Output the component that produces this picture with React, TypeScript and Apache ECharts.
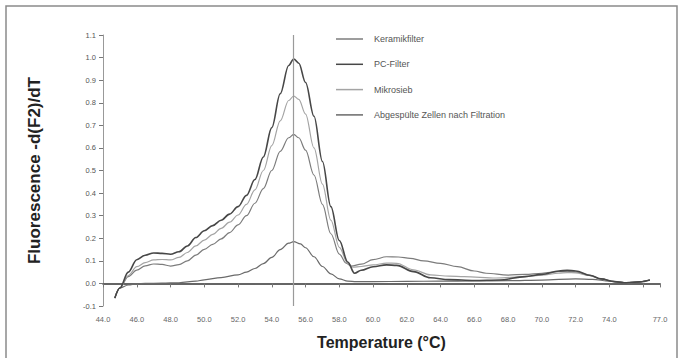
import React, { useEffect, useRef } from "react";
import * as echarts from "echarts";

const seriesNames = ["Keramikfilter", "PC-Filter", "Mikrosieb", "Abgespülte Zellen nach Filtration"];

const keramikfilter: [number, number][] = [
  [44.7, -0.065], [45.0, -0.02], [45.5, 0.03], [46.0, 0.059], [46.5, 0.078], [47.0, 0.086], [47.5, 0.084],
  [48.0, 0.077], [48.5, 0.083], [49.0, 0.1], [49.5, 0.125], [50.0, 0.151], [50.5, 0.173], [51.0, 0.197],
  [51.5, 0.225], [52.0, 0.259], [52.5, 0.3], [53.0, 0.355], [53.5, 0.42], [54.0, 0.5], [54.5, 0.585],
  [55.0, 0.645], [55.3, 0.66], [55.6, 0.645], [56.0, 0.59], [56.5, 0.48], [57.0, 0.35], [57.5, 0.22],
  [58.0, 0.13], [58.4, 0.09], [58.7, 0.077], [59.3, 0.085], [60.0, 0.105], [60.8, 0.118], [61.5, 0.117],
  [62.2, 0.111], [63.0, 0.1], [64.0, 0.089], [65.0, 0.074], [66.0, 0.055], [66.7, 0.045], [68.0, 0.037],
  [69.0, 0.04], [70.0, 0.045], [71.0, 0.052], [71.5, 0.053], [72.0, 0.05], [72.8, 0.037], [73.5, 0.02],
  [74.3, 0.008], [75.0, 0.003], [75.8, 0.007], [76.4, 0.015],
];

const pcFilter: [number, number][] = [
  [44.7, -0.065], [45.0, -0.02], [45.5, 0.05], [46.0, 0.105], [46.5, 0.125], [47.0, 0.135], [47.5, 0.133],
  [48.0, 0.129], [48.5, 0.14], [49.0, 0.166], [49.5, 0.203], [50.0, 0.233], [50.5, 0.256], [51.0, 0.28],
  [51.5, 0.307], [52.0, 0.34], [52.5, 0.39], [53.0, 0.46], [53.5, 0.56], [54.0, 0.69], [54.5, 0.84],
  [55.0, 0.965], [55.3, 0.994], [55.6, 0.975], [56.0, 0.89], [56.5, 0.74], [57.0, 0.54], [57.5, 0.34],
  [58.0, 0.19], [58.5, 0.095], [58.9, 0.045], [59.3, 0.058], [60.0, 0.074], [60.8, 0.082], [61.4, 0.08],
  [62.4, 0.052], [63.4, 0.025], [64.5, 0.017], [66.0, 0.013], [67.5, 0.015], [69.0, 0.03], [70.0, 0.04],
  [71.0, 0.055], [71.5, 0.058], [72.0, 0.055], [72.9, 0.035], [73.5, 0.02], [74.3, 0.008], [75.0, 0.003],
  [75.8, 0.007], [76.4, 0.015],
];

const mikrosieb: [number, number][] = [
  [44.7, -0.065], [45.0, -0.02], [45.5, 0.035], [46.0, 0.074], [46.5, 0.092], [47.0, 0.104], [47.5, 0.106],
  [48.0, 0.104], [48.5, 0.115], [49.0, 0.137], [49.5, 0.166], [50.0, 0.192], [50.5, 0.217], [51.0, 0.244],
  [51.5, 0.271], [52.0, 0.303], [52.5, 0.35], [53.0, 0.414], [53.5, 0.5], [54.0, 0.61], [54.5, 0.72],
  [55.0, 0.81], [55.3, 0.83], [55.6, 0.815], [56.0, 0.75], [56.5, 0.6], [57.0, 0.44], [57.5, 0.28],
  [58.0, 0.16], [58.5, 0.09], [58.8, 0.072], [59.3, 0.075], [60.0, 0.082], [60.8, 0.09], [61.4, 0.089],
  [62.4, 0.06], [63.4, 0.038], [64.5, 0.032], [65.4, 0.03], [67.3, 0.024], [69.0, 0.03], [70.0, 0.037],
  [71.0, 0.045], [71.5, 0.048], [72.0, 0.047], [72.8, 0.035], [73.5, 0.02], [74.3, 0.008], [75.0, 0.003],
  [75.8, 0.007], [76.4, 0.015],
];

const abgespuelt: [number, number][] = [
  [44.7, -0.065], [45.0, -0.02], [45.5, -0.007], [46.0, -0.002], [46.5, 0.0], [47.5, 0.001], [48.5, 0.003],
  [49.5, 0.01], [50.0, 0.016], [51.0, 0.026], [52.0, 0.038], [52.5, 0.05], [53.0, 0.066], [53.5, 0.088],
  [54.0, 0.115], [54.5, 0.15], [55.0, 0.178], [55.3, 0.185], [55.7, 0.175], [56.0, 0.158], [56.5, 0.118],
  [57.0, 0.075], [57.5, 0.042], [58.0, 0.02], [58.5, 0.01], [59.0, 0.008], [60.0, 0.008], [62.0, 0.009],
  [64.0, 0.01], [66.0, 0.011], [68.0, 0.012], [70.0, 0.015], [72.0, 0.02], [73.0, 0.018], [74.0, 0.01],
  [75.0, 0.003], [75.8, 0.007], [76.4, 0.015],
];

const meltTemp = 55.3;
const xMin = 44;
const xMax = 77;
const yMin = -0.1;
const yMax = 1.1;

const colors = ["#7c7c7c", "#474747", "#a4a4a4", "#6a6a6a"];
const widths = [1.2, 1.6, 1.2, 1.2];

export default function App() {
  const ref = useRef<HTMLDivElement>(null);
  useEffect(() => {
    if (!ref.current) return;
    const chart = echarts.init(ref.current, undefined, { renderer: "svg" });
    const dataSets = [keramikfilter, pcFilter, mikrosieb, abgespuelt];
    const font = "'Liberation Sans', Arial, sans-serif";
    chart.setOption({
      animation: false,
      backgroundColor: "#ffffff",
      textStyle: { fontFamily: font },
      grid: { left: 103, right: 23, top: 35, bottom: 52 },
      graphic: [
        {
          type: "rect",
          silent: true,
          shape: { x: 6, y: 6, width: 671, height: 370 },
          style: { fill: "none", stroke: "#8a8a8a", lineWidth: 1.5 },
        },
      ],
      legend: {
        orient: "vertical",
        left: 336,
        top: 34.5,
        padding: 0,
        icon: "rect",
        itemWidth: 27,
        itemHeight: 1.5,
        itemGap: 16.3,
        data: seriesNames,
        textStyle: { fontSize: 9, color: "#555", fontFamily: font, padding: [0, 0, 0, 6] },
      },
      xAxis: {
        type: "value",
        min: xMin,
        max: xMax,
        interval: 2,
        name: "Temperature (°C)",
        nameLocation: "middle",
        nameGap: 28,
        nameTextStyle: { fontSize: 16, fontWeight: "bold", color: "#222", fontFamily: font },
        axisLine: { lineStyle: { color: "#333", width: 1.5 } },
        axisTick: { show: true, length: 4, lineStyle: { color: "#777" } },
        axisLabel: {
          fontSize: 7.5,
          color: "#666",
          margin: 9,
          formatter: (v: number) => (v === 76 ? "" : v.toFixed(1)),
        },
        splitLine: { show: false },
      },
      yAxis: {
        type: "value",
        min: yMin,
        max: yMax,
        interval: 0.1,
        name: "Fluorescence -d(F2)/dT",
        nameLocation: "middle",
        nameGap: 60,
        nameTextStyle: { fontSize: 17, fontWeight: "bold", color: "#222", fontFamily: font },
        axisLine: { show: true, lineStyle: { color: "#999", width: 1 } },
        axisTick: { show: true, length: 4, lineStyle: { color: "#777" } },
        axisLabel: {
          fontSize: 7.5,
          color: "#555",
          margin: 7,
          formatter: (v: number) => (Math.abs(v) < 1e-9 ? "0.0" : v.toFixed(1)),
        },
        splitLine: { show: false },
      },
      series: seriesNames.map((name, i) => ({
        name,
        type: "line",
        data: dataSets[i],
        symbol: "none",
        smooth: 0.35,
        smoothMonotone: "x",
        lineStyle: { color: colors[i], width: widths[i] },
        itemStyle: { color: colors[i] },
        z: i === 1 ? 4 : 3,
        markLine:
          i === 1
            ? {
                silent: true,
                symbol: ["none", "none"],
                label: { show: false },
                lineStyle: { color: "#9a9a9a", width: 1.2, type: "solid" },
                data: [{ xAxis: meltTemp }],
              }
            : undefined,
      })),
    });
    return () => chart.dispose();
  }, []);
  return (
    <div
      ref={ref}
      style={{ position: "fixed", left: 0, top: 0, width: 683, height: 358, background: "#fff" }}
    />
  );
}
